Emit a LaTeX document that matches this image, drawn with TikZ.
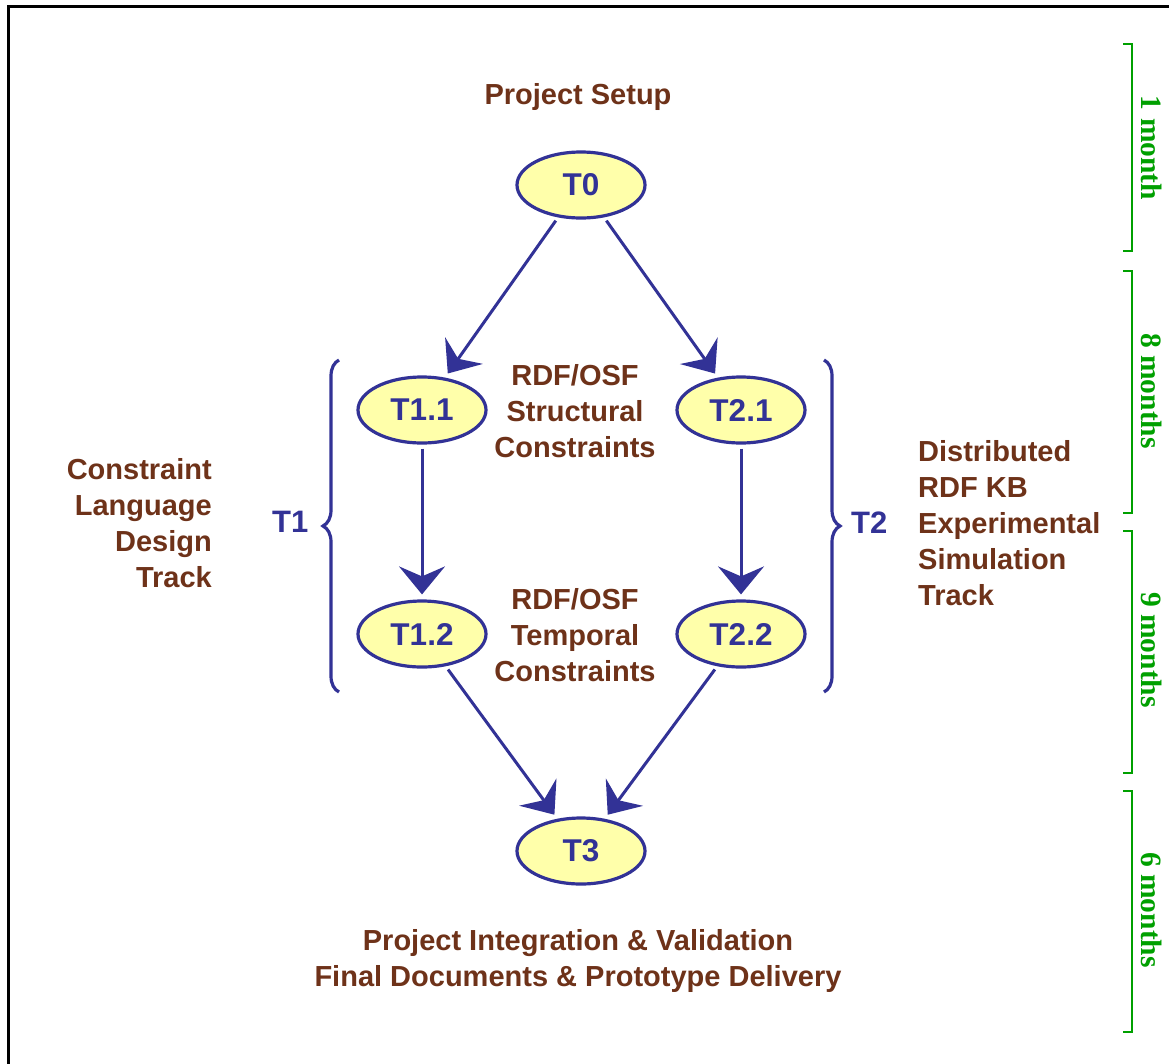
\documentclass[tikz,border=0pt]{standalone}
\usepackage{fontspec}
\setmainfont{Liberation Sans}
\newfontfamily\monthfont{Liberation Serif}
\usetikzlibrary{arrows.meta,shapes.geometric,decorations.pathreplacing}
\definecolor{tblue}{RGB}{50,50,150}
\definecolor{tbrown}{RGB}{110,50,25}
\definecolor{tgreen}{RGB}{0,160,0}
\definecolor{tfill}{RGB}{255,255,170}
\newcommand{\mystrut}{\rule{0pt}{25pt}}
\begin{document}
\begin{tikzpicture}[x=1pt,y=-1pt,
  task/.style={ellipse, draw=tblue, fill=tfill, line width=3.2pt,
    minimum width=128pt, minimum height=66pt, inner sep=0pt,
    text=tblue, font=\fontsize{31.5}{36}\selectfont\bfseries},
  lbl/.style={text=tbrown, inner sep=0pt, font=\fontsize{29}{36}\selectfont\bfseries},
  tlbl/.style={text=tblue, inner sep=0pt, anchor=base west, font=\fontsize{31}{36}\selectfont\bfseries},
  flow/.style={draw=tblue, line width=3pt,
    -{Stealth[length=28pt,width=46pt,inset=10pt]},
    shorten <=4pt, shorten >=5pt},
  trackbrace/.style={draw=tblue, line width=3.2pt, decorate,
    decoration={brace, amplitude=16pt}},
  period/.style={draw=tgreen, line width=2.2pt},
  monthlbl/.style={text=tgreen, inner sep=0pt, rotate=-90,
    font=\monthfont\fontsize{29.5}{30}\selectfont\bfseries}]

\useasboundingbox (0,0) rectangle (1169,1063);
\fill[white] (0,0) rectangle (1169,1063);
% frame
\draw[line width=2.6pt] (8.5,1075) -- (8.5,6.3) -- (1180,6.3);

% tasks
\node[task] (T0)  at (581,185) {T0};
\node[task] (T11) at (422,410) {T1.1};
\node[task] (T21) at (741,410) {T2.1};
\node[task] (T12) at (422,634) {T1.2};
\node[task] (T22) at (741,634) {T2.2};
\node[task] (T3)  at (581,851) {T3};

% connectors
\draw[flow] (T0) -- (T11);
\draw[flow] (T0) -- (T21);
\draw[flow] (T11) -- (T12);
\draw[flow] (T21) -- (T22);
\draw[flow] (T12) -- (T3);
\draw[flow] (T22) -- (T3);

% labels
\node[lbl, anchor=base] (setup) at (578,104) {Project Setup};
\node[lbl, anchor=north, align=center] (struct) at (575,360)
  {\mystrut RDF/OSF\\Structural\\Constraints};
\node[lbl, anchor=north, align=center] (temp) at (575,584)
  {\mystrut RDF/OSF\\Temporal\\Constraints};
\node[lbl, anchor=north east, align=right] (cltrack) at (212,454)
  {\mystrut Constraint\\Language\\Design\\Track};
\node[lbl, anchor=north west, align=left] (dtrack) at (918,436)
  {\mystrut Distributed\\RDF KB\\Experimental\\Simulation\\Track};
\node[lbl, anchor=north, align=center] (final) at (578,925)
  {\mystrut Project Integration \& Validation\\Final Documents \& Prototype Delivery};

% track braces
\coordinate (b1top) at (339,360);
\coordinate (b1bot) at (339,692);
\coordinate (b2top) at (824,360);
\coordinate (b2bot) at (824,692);
\draw[trackbrace] (b1bot) -- (b1top);
\draw[trackbrace] (b2top) -- (b2bot);
\node[tlbl] (t1lbl) at (272,532) {T1};
\node[tlbl] (t2lbl) at (851,533) {T2};

% duration brackets
\draw[period] (1123,44) -- (1132,44) -- (1132,251) -- (1123,251);
\draw[period] (1123,271) -- (1132,271) -- (1132,513) -- (1123,513);
\draw[period] (1123,531) -- (1132,531) -- (1132,773) -- (1123,773);
\draw[period] (1123,791) -- (1132,791) -- (1132,1032) -- (1123,1032);
\node[monthlbl] (m1) at (1152,148) {1 month};
\node[monthlbl] (m2) at (1152,391) {8 months};
\node[monthlbl] (m3) at (1152,650) {9 months};
\node[monthlbl] (m4) at (1152,910) {6 months};
\end{tikzpicture}
\end{document}
